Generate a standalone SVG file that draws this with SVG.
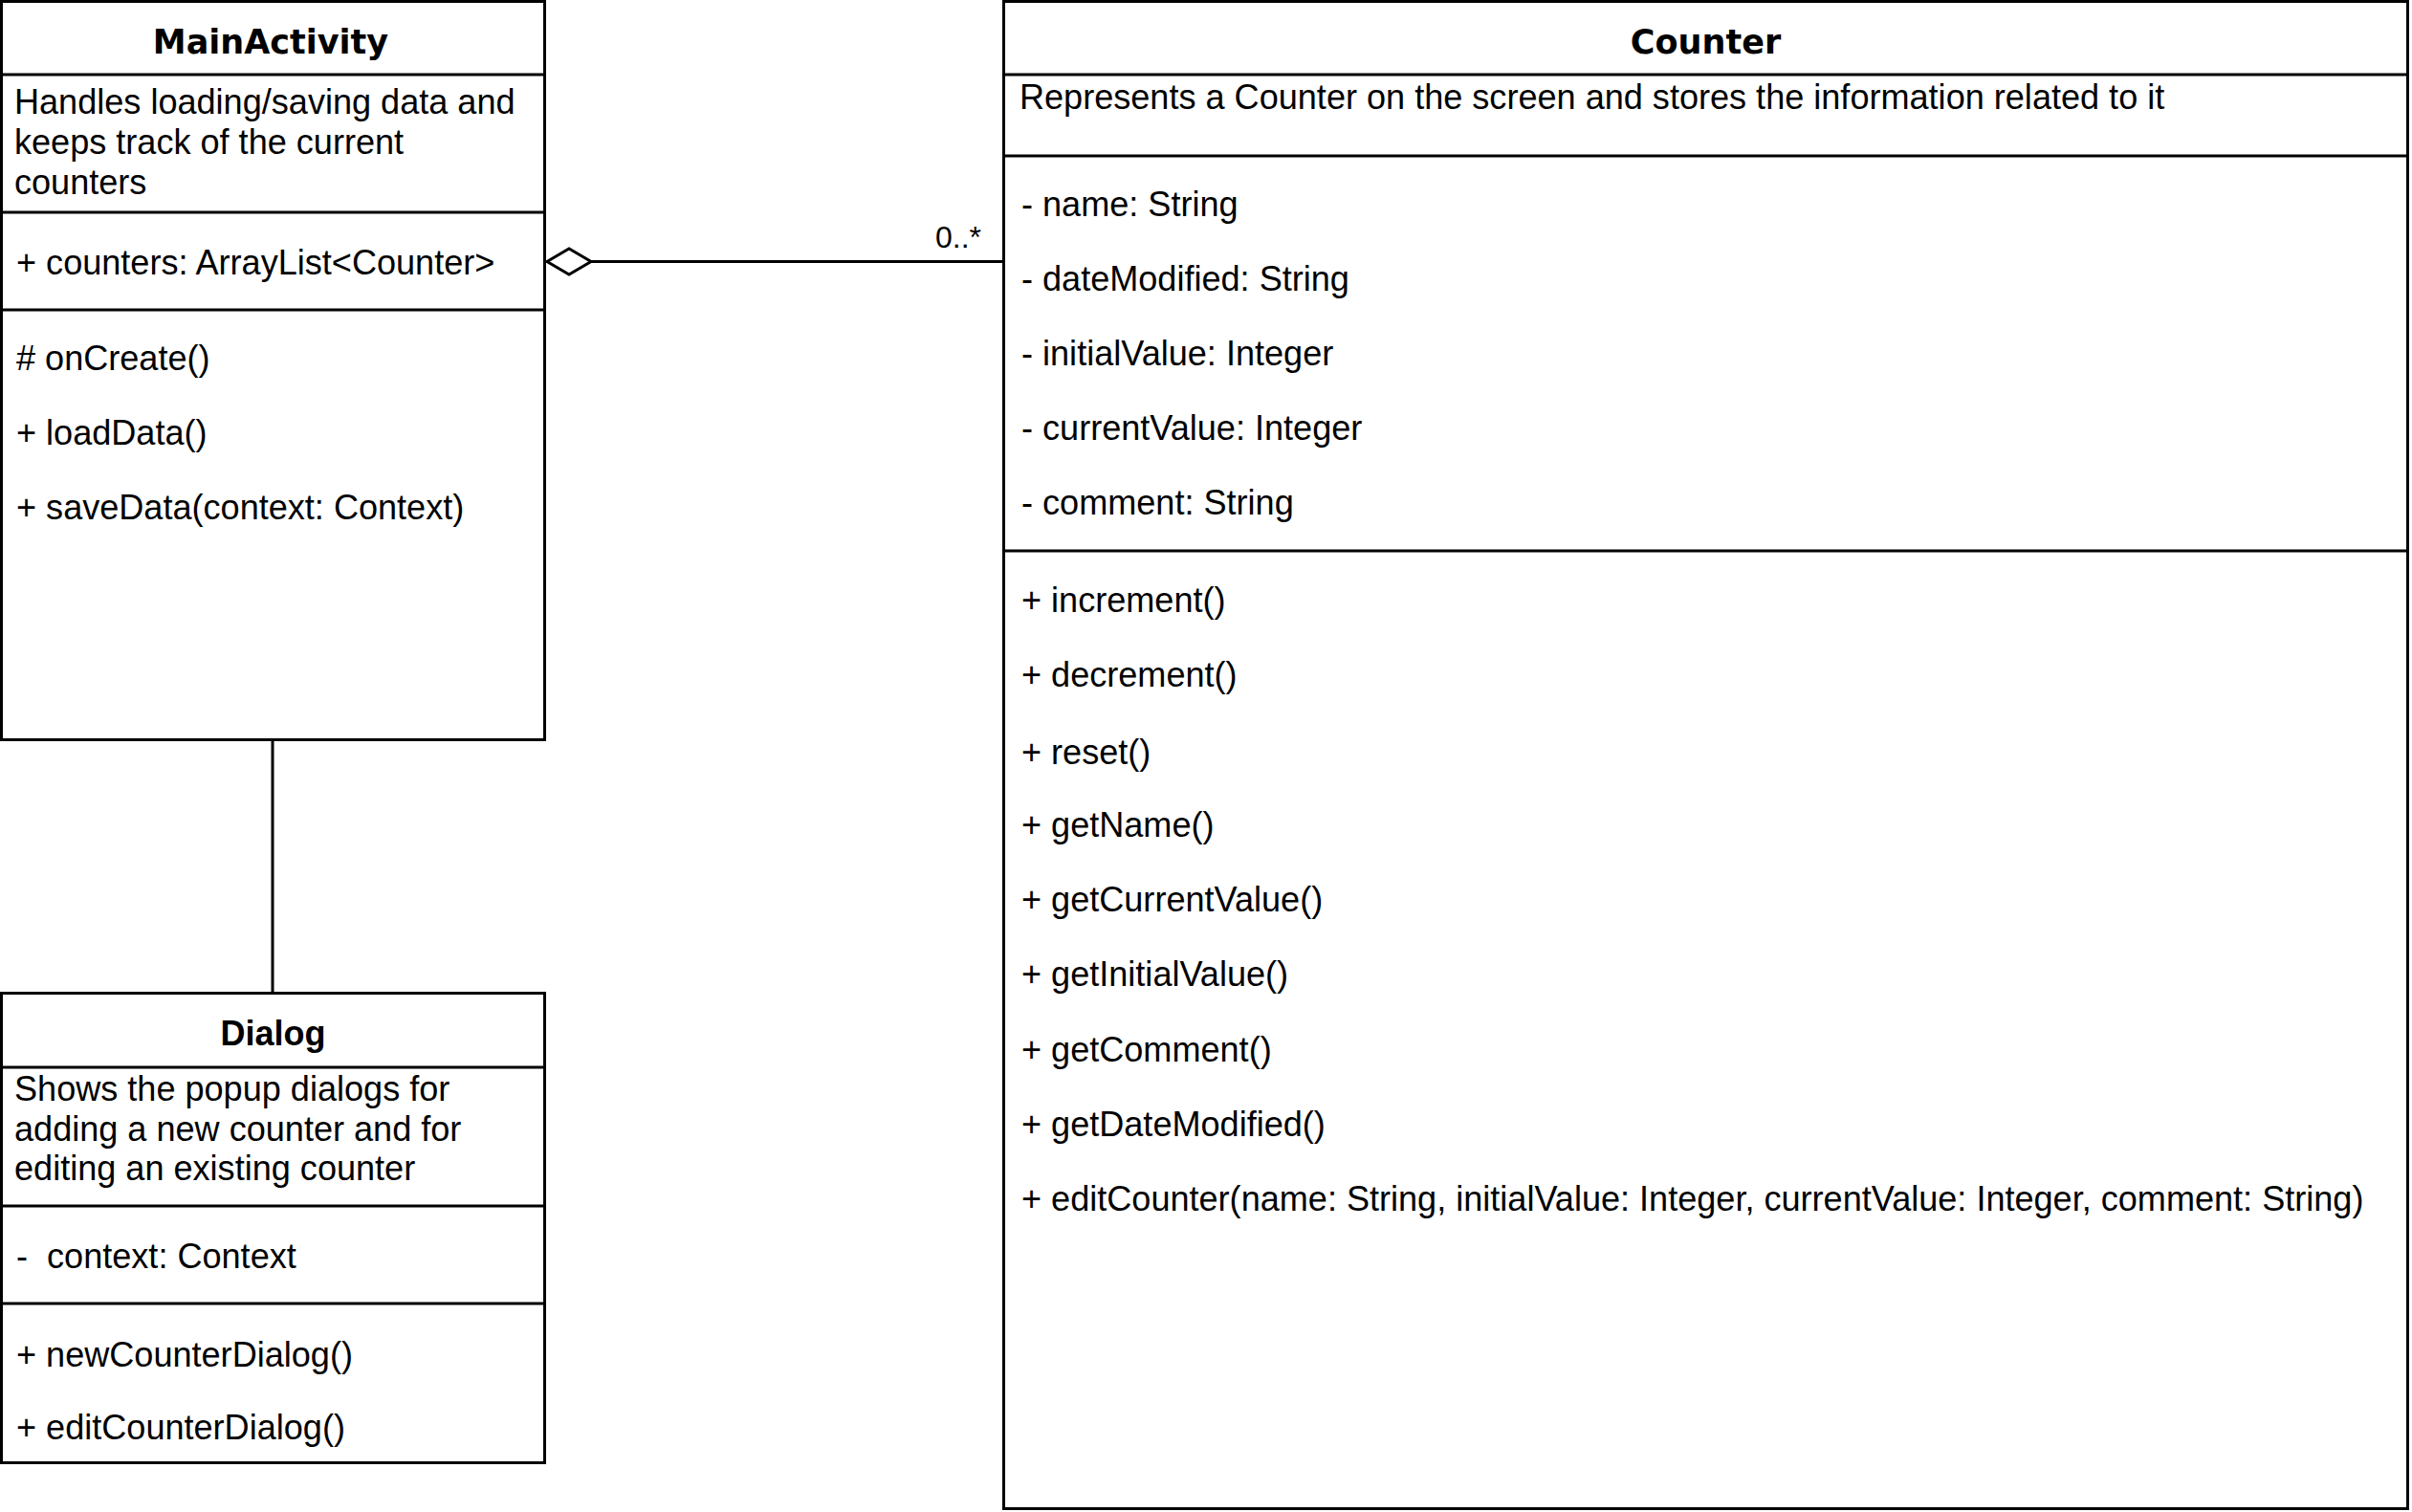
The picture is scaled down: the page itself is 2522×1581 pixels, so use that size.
<svg xmlns="http://www.w3.org/2000/svg" width="2522" height="1581" viewBox="0 0 2522 1581">
<style>
.box{fill:#fff;stroke:#000;stroke-width:3}
.sep{stroke:#000;stroke-width:3}
.t{font-family:"Liberation Sans",Arial,Helvetica,sans-serif;font-size:36.1px;fill:#000;white-space:pre}
.title{font-family:"DejaVu Sans",Verdana,sans-serif;font-size:35px;font-weight:bold;fill:#000;text-anchor:middle}
.titleH{font-family:"Liberation Sans",Arial,sans-serif;font-size:36px;font-weight:bold;fill:#000;text-anchor:middle}
.conn{stroke:#000;stroke-width:3;fill:none}
.mult{font-family:"Liberation Sans",Arial,sans-serif;font-size:32px;fill:#000;text-anchor:end}
</style>
<rect width="2522" height="1581" fill="#fff"/>
<g id="connectors">
<line class="conn" x1="285" y1="774" x2="285" y2="1038"/>
<line class="conn" x1="618" y1="273.5" x2="1049" y2="273.5"/>
<polygon class="conn" points="572,273.5 595,260 618,273.5 595,287" fill="#fff"/>
<text class="mult" x="1026" y="259">0..*</text>
</g>
<g id="MainActivity">
<rect class="box" x="1.5" y="1.5" width="568" height="772"/>
<line class="sep" x1="1.5" y1="78" x2="569.5" y2="78"/>
<line class="sep" x1="1.5" y1="222" x2="569.5" y2="222"/>
<line class="sep" x1="1.5" y1="324" x2="569.5" y2="324"/>
<text class="title" x="283" y="56">MainActivity</text>
<text class="t" x="15" y="119">Handles loading/saving data and</text>
<text class="t" x="15" y="161">keeps track of the current</text>
<text class="t" x="15" y="203">counters</text>
<text class="t" x="17" y="287">+ counters: ArrayList&lt;Counter&gt;</text>
<text class="t" x="17" y="387"># onCreate()</text>
<text class="t" x="17" y="465">+ loadData()</text>
<text class="t" x="17" y="543">+ saveData(context: Context)</text>
</g>
<g id="Dialog">
<rect class="box" x="1.5" y="1038.5" width="568" height="491"/>
<line class="sep" x1="1.5" y1="1116" x2="569.5" y2="1116"/>
<line class="sep" x1="1.5" y1="1261" x2="569.5" y2="1261"/>
<line class="sep" x1="1.5" y1="1363" x2="569.5" y2="1363"/>
<text class="titleH" x="285.5" y="1093">Dialog</text>
<text class="t" x="15" y="1151">Shows the popup dialogs for</text>
<text class="t" x="15" y="1193">adding a new counter and for</text>
<text class="t" x="15" y="1234">editing an existing counter</text>
<text class="t" x="17" y="1326">-  context: Context</text>
<text class="t" x="17" y="1429">+ newCounterDialog()</text>
<text class="t" x="17" y="1505">+ editCounterDialog()</text>
</g>
<g id="Counter">
<rect class="box" x="1049.5" y="1.5" width="1468" height="1576"/>
<line class="sep" x1="1049.5" y1="78" x2="2517.5" y2="78"/>
<line class="sep" x1="1049.5" y1="163" x2="2517.5" y2="163"/>
<line class="sep" x1="1049.5" y1="576" x2="2517.5" y2="576"/>
<text class="title" x="1783.5" y="56">Counter</text>
<text class="t" x="1066" y="114">Represents a Counter on the screen and stores the information related to it</text>
<text class="t" x="1068" y="226">- name: String</text>
<text class="t" x="1068" y="304">- dateModified: String</text>
<text class="t" x="1068" y="382">- initialValue: Integer</text>
<text class="t" x="1068" y="460">- currentValue: Integer</text>
<text class="t" x="1068" y="538">- comment: String</text>
<text class="t" x="1068" y="640">+ increment()</text>
<text class="t" x="1068" y="718">+ decrement()</text>
<text class="t" x="1068" y="799">+ reset()</text>
<text class="t" x="1068" y="875">+ getName()</text>
<text class="t" x="1068" y="953">+ getCurrentValue()</text>
<text class="t" x="1068" y="1031">+ getInitialValue()</text>
<text class="t" x="1068" y="1110">+ getComment()</text>
<text class="t" x="1068" y="1188">+ getDateModified()</text>
<text class="t" x="1068" y="1266">+ editCounter(name: String, initialValue: Integer, currentValue: Integer, comment: String)</text>
</g>
</svg>
